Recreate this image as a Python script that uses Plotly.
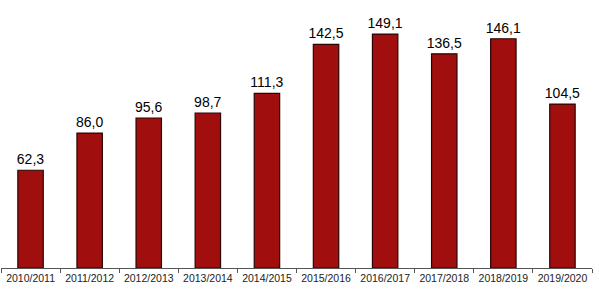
import plotly.graph_objects as go

categories = ["2010/2011", "2011/2012", "2012/2013", "2013/2014", "2014/2015",
              "2015/2016", "2016/2017", "2017/2018", "2018/2019", "2019/2020"]
values = [62.3, 86.0, 95.6, 98.7, 111.3, 142.5, 149.1, 136.5, 146.1, 104.5]
labels = [f"{v:.1f}".replace(".", ",") for v in values]

fig = go.Figure(go.Bar(
    x=categories, y=values, text=labels, textposition="outside",
    textfont=dict(family="Arial, Liberation Sans", size=14, color="#000000"),
    marker=dict(color="#A00E0E", line=dict(color="#2a0505", width=1.2)),
    width=0.43, cliponaxis=False, constraintext="none",
))
fig.update_layout(
    width=599, height=289, margin=dict(l=1, r=7, t=0, b=21),
    paper_bgcolor="white", plot_bgcolor="white", showlegend=False,
    xaxis=dict(showline=True, linecolor="#555555", linewidth=1,
               ticks="outside", tickson="boundaries", ticklen=4, tickcolor="#555555",
               tickangle=0, automargin=False,
               tickfont=dict(family="Arial, Liberation Sans", size=10.5, color="#222222"),
               showgrid=False),
    yaxis=dict(range=[0, 170.8], visible=False, showgrid=False),
)
fig.write_html("out.html")
